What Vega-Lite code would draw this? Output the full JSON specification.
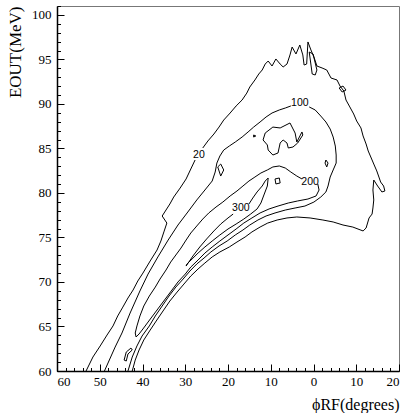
{
  "$schema": "https://vega.github.io/schema/vega-lite/v6.json",
  "width": 342,
  "height": 365,
  "autosize": {"type": "none"},
  "padding": {"left": 57, "top": 6, "right": 2, "bottom": 42},
  "config": {
    "view": {"stroke": "#777", "strokeWidth": 1},
    "font": "Liberation Serif",
    "axis": {
      "grid": false,
      "domainColor": "black",
      "domainWidth": 1.5,
      "tickColor": "black",
      "labelColor": "black",
      "labelFont": "Liberation Serif",
      "labelFontSize": 13,
      "titleFont": "Liberation Serif",
      "titleFontSize": 16,
      "titleFontWeight": "normal",
      "titleColor": "black"
    }
  },
  "datasets": {
    "contours": [
      {"p":"a1","lv":20,"i":0,"x":53.2,"y":60.0},{"p":"a1","lv":20,"i":1,"x":51.6,"y":61.57},{"p":"a1","lv":20,"i":2,"x":49.9,"y":62.81},{"p":"a1","lv":20,"i":3,"x":48.3,"y":64.04},{"p":"a1","lv":20,"i":4,"x":46.9,"y":65.06},{"p":"a1","lv":20,"i":5,"x":45.8,"y":66.18},{"p":"a1","lv":20,"i":6,"x":44.6,"y":67.18},{"p":"a1","lv":20,"i":7,"x":43.4,"y":68.2},{"p":"a1","lv":20,"i":8,"x":42.2,"y":69.1},{"p":"a1","lv":20,"i":9,"x":41.1,"y":70.11},{"p":"a1","lv":20,"i":10,"x":39.9,"y":71.0},{"p":"a1","lv":20,"i":11,"x":38.2,"y":72.36},{"p":"a1","lv":20,"i":12,"x":36.6,"y":73.59},{"p":"a1","lv":20,"i":13,"x":35.7,"y":74.6},{"p":"a1","lv":20,"i":14,"x":35.0,"y":75.62},{"p":"a1","lv":20,"i":15,"x":34.3,"y":76.62},{"p":"a1","lv":20,"i":16,"x":35.4,"y":77.41},{"p":"a1","lv":20,"i":17,"x":33.6,"y":78.76},{"p":"a1","lv":20,"i":18,"x":32.7,"y":79.54},{"p":"a1","lv":20,"i":19,"x":31.2,"y":80.55},{"p":"a1","lv":20,"i":20,"x":29.8,"y":81.57},{"p":"a1","lv":20,"i":21,"x":28.7,"y":82.69},{"p":"a1","lv":20,"i":22,"x":27.7,"y":83.7},
      {"p":"a2","lv":20,"i":0,"x":25.9,"y":85.05},{"p":"a2","lv":20,"i":1,"x":24.7,"y":85.84},{"p":"a2","lv":20,"i":2,"x":23.3,"y":86.62},{"p":"a2","lv":20,"i":3,"x":22.1,"y":87.4},{"p":"a2","lv":20,"i":4,"x":21.0,"y":88.19},{"p":"a2","lv":20,"i":5,"x":19.5,"y":88.98},{"p":"a2","lv":20,"i":6,"x":18.1,"y":89.77},{"p":"a2","lv":20,"i":7,"x":16.7,"y":90.44},{"p":"a2","lv":20,"i":8,"x":15.6,"y":91.22},{"p":"a2","lv":20,"i":9,"x":14.9,"y":91.9},{"p":"a2","lv":20,"i":10,"x":13.7,"y":92.69},{"p":"a2","lv":20,"i":11,"x":12.8,"y":93.36},{"p":"a2","lv":20,"i":12,"x":12.0,"y":93.81},{"p":"a2","lv":20,"i":13,"x":11.3,"y":94.48},{"p":"a2","lv":20,"i":14,"x":10.6,"y":94.82},{"p":"a2","lv":20,"i":15,"x":9.7,"y":94.26},{"p":"a2","lv":20,"i":16,"x":8.8,"y":95.05},{"p":"a2","lv":20,"i":17,"x":7.8,"y":94.48},{"p":"a2","lv":20,"i":18,"x":7.1,"y":94.15},{"p":"a2","lv":20,"i":19,"x":6.2,"y":94.48},{"p":"a2","lv":20,"i":20,"x":5.5,"y":95.5},{"p":"a2","lv":20,"i":21,"x":5.0,"y":96.39},{"p":"a2","lv":20,"i":22,"x":4.1,"y":95.61},{"p":"a2","lv":20,"i":23,"x":3.2,"y":96.62},{"p":"a2","lv":20,"i":24,"x":2.5,"y":95.5},{"p":"a2","lv":20,"i":25,"x":2.2,"y":94.37},{"p":"a2","lv":20,"i":26,"x":1.6,"y":94.48},{"p":"a2","lv":20,"i":27,"x":1.3,"y":96.96},{"p":"a2","lv":20,"i":28,"x":0.6,"y":96.06},{"p":"a2","lv":20,"i":29,"x":-0.1,"y":95.27},{"p":"a2","lv":20,"i":30,"x":-0.8,"y":94.26},{"p":"a2","lv":20,"i":31,"x":-2.0,"y":94.04},{"p":"a2","lv":20,"i":32,"x":-3.1,"y":93.81},{"p":"a2","lv":20,"i":33,"x":-4.1,"y":92.91},{"p":"a2","lv":20,"i":34,"x":-5.5,"y":92.69},{"p":"a2","lv":20,"i":35,"x":-6.2,"y":92.01},{"p":"a2","lv":20,"i":36,"x":-7.1,"y":91.45},{"p":"a2","lv":20,"i":37,"x":-7.6,"y":90.44},{"p":"a2","lv":20,"i":38,"x":-8.5,"y":89.66},{"p":"a2","lv":20,"i":39,"x":-9.4,"y":88.87},{"p":"a2","lv":20,"i":40,"x":-10.1,"y":88.08},{"p":"a2","lv":20,"i":41,"x":-11.1,"y":87.3},{"p":"a2","lv":20,"i":42,"x":-11.6,"y":86.4},{"p":"a2","lv":20,"i":43,"x":-12.3,"y":85.5},{"p":"a2","lv":20,"i":44,"x":-12.8,"y":84.71},{"p":"a2","lv":20,"i":45,"x":-13.4,"y":84.04},{"p":"a2","lv":20,"i":46,"x":-14.1,"y":83.25},{"p":"a2","lv":20,"i":47,"x":-14.8,"y":82.47},{"p":"a2","lv":20,"i":48,"x":-15.3,"y":81.79},{"p":"a2","lv":20,"i":49,"x":-15.7,"y":81.23},{"p":"a2","lv":20,"i":50,"x":-16.4,"y":80.78},{"p":"a2","lv":20,"i":51,"x":-16.7,"y":80.22},{"p":"a2","lv":20,"i":52,"x":-16.0,"y":80.11},{"p":"a2","lv":20,"i":53,"x":-15.0,"y":80.78},{"p":"a2","lv":20,"i":54,"x":-14.1,"y":81.45},{"p":"a2","lv":20,"i":55,"x":-13.9,"y":80.33},{"p":"a2","lv":20,"i":56,"x":-14.1,"y":79.21},{"p":"a2","lv":20,"i":57,"x":-13.9,"y":78.31},{"p":"a2","lv":20,"i":58,"x":-13.7,"y":77.63},{"p":"a2","lv":20,"i":59,"x":-13.0,"y":77.19},{"p":"a2","lv":20,"i":60,"x":-12.3,"y":76.06},{"p":"a2","lv":20,"i":61,"x":-11.6,"y":75.73},{"p":"a2","lv":20,"i":62,"x":-9.2,"y":76.17},{"p":"a2","lv":20,"i":63,"x":-6.9,"y":76.4},{"p":"a2","lv":20,"i":64,"x":-4.6,"y":76.74},{"p":"a2","lv":20,"i":65,"x":-2.2,"y":76.96},{"p":"a2","lv":20,"i":66,"x":0.8,"y":77.19},{"p":"a2","lv":20,"i":67,"x":3.9,"y":77.3},{"p":"a2","lv":20,"i":68,"x":6.2,"y":77.19},{"p":"a2","lv":20,"i":69,"x":8.5,"y":76.96},{"p":"a2","lv":20,"i":70,"x":10.7,"y":76.62},{"p":"a2","lv":20,"i":71,"x":12.5,"y":76.17},{"p":"a2","lv":20,"i":72,"x":14.4,"y":75.62},{"p":"a2","lv":20,"i":73,"x":16.0,"y":75.05},{"p":"a2","lv":20,"i":74,"x":17.9,"y":74.49},{"p":"a2","lv":20,"i":75,"x":19.7,"y":73.93},{"p":"a2","lv":20,"i":76,"x":21.9,"y":73.37},{"p":"a2","lv":20,"i":77,"x":23.7,"y":72.81},{"p":"a2","lv":20,"i":78,"x":25.4,"y":72.13},{"p":"a2","lv":20,"i":79,"x":27.0,"y":71.46},{"p":"a2","lv":20,"i":80,"x":28.7,"y":70.67},{"p":"a2","lv":20,"i":81,"x":30.3,"y":69.77},{"p":"a2","lv":20,"i":82,"x":31.9,"y":68.87},{"p":"a2","lv":20,"i":83,"x":33.6,"y":67.86},{"p":"a2","lv":20,"i":84,"x":35.2,"y":66.74},{"p":"a2","lv":20,"i":85,"x":36.8,"y":65.61},{"p":"a2","lv":20,"i":86,"x":38.2,"y":64.6},{"p":"a2","lv":20,"i":87,"x":39.7,"y":63.48},{"p":"a2","lv":20,"i":88,"x":40.8,"y":62.36},{"p":"a2","lv":20,"i":89,"x":41.7,"y":61.23},{"p":"a2","lv":20,"i":90,"x":42.4,"y":60.0},
      {"p":"a3","lv":20,"i":0,"x":1.0,"y":95.83},{"p":"a3","lv":20,"i":1,"x":0.3,"y":93.36},{"p":"a3","lv":20,"i":2,"x":-0.4,"y":93.25},{"p":"a3","lv":20,"i":3,"x":-0.8,"y":93.81},{"p":"a3","lv":20,"i":4,"x":0.1,"y":95.61},{"p":"a3","lv":20,"i":5,"x":1.0,"y":95.83},
      {"p":"a4","lv":20,"i":0,"x":-6.0,"y":91.79},{"p":"a4","lv":20,"i":1,"x":-6.9,"y":92.01},{"p":"a4","lv":20,"i":2,"x":-7.6,"y":91.56},{"p":"a4","lv":20,"i":3,"x":-6.7,"y":91.34},{"p":"a4","lv":20,"i":4,"x":-6.0,"y":91.79},
      {"p":"b1","lv":100,"i":0,"x":48.9,"y":60.0},{"p":"b1","lv":100,"i":1,"x":46.4,"y":62.69},{"p":"b1","lv":100,"i":2,"x":44.8,"y":64.27},{"p":"b1","lv":100,"i":3,"x":42.9,"y":66.51},{"p":"b1","lv":100,"i":4,"x":40.6,"y":68.99},{"p":"b1","lv":100,"i":5,"x":38.7,"y":70.89},{"p":"b1","lv":100,"i":6,"x":36.4,"y":72.81},{"p":"b1","lv":100,"i":7,"x":34.0,"y":74.71},{"p":"b1","lv":100,"i":8,"x":31.7,"y":76.4},{"p":"b1","lv":100,"i":9,"x":29.4,"y":77.86},{"p":"b1","lv":100,"i":10,"x":27.3,"y":79.21},{"p":"b1","lv":100,"i":11,"x":25.4,"y":80.33},{"p":"b1","lv":100,"i":12,"x":23.7,"y":81.34},{"p":"b1","lv":100,"i":13,"x":23.0,"y":82.35},{"p":"b1","lv":100,"i":14,"x":22.6,"y":83.36},{"p":"b1","lv":100,"i":15,"x":21.9,"y":84.15},{"p":"b1","lv":100,"i":16,"x":21.0,"y":84.82},{"p":"b1","lv":100,"i":17,"x":19.7,"y":85.27},{"p":"b1","lv":100,"i":18,"x":18.3,"y":85.72},{"p":"b1","lv":100,"i":19,"x":16.7,"y":86.28},{"p":"b1","lv":100,"i":20,"x":15.3,"y":86.85},{"p":"b1","lv":100,"i":21,"x":14.0,"y":87.4},{"p":"b1","lv":100,"i":22,"x":12.5,"y":87.97},{"p":"b1","lv":100,"i":23,"x":11.1,"y":88.53},{"p":"b1","lv":100,"i":24,"x":9.7,"y":88.98},{"p":"b1","lv":100,"i":25,"x":8.0,"y":89.32},{"p":"b1","lv":100,"i":26,"x":6.6,"y":89.54},{"p":"b1","lv":100,"i":27,"x":5.3,"y":89.77},
      {"p":"b2","lv":100,"i":0,"x":1.0,"y":89.66},{"p":"b2","lv":100,"i":1,"x":-0.4,"y":89.32},{"p":"b2","lv":100,"i":2,"x":-1.7,"y":88.64},{"p":"b2","lv":100,"i":3,"x":-2.9,"y":87.97},{"p":"b2","lv":100,"i":4,"x":-3.9,"y":87.18},{"p":"b2","lv":100,"i":5,"x":-4.6,"y":86.28},{"p":"b2","lv":100,"i":6,"x":-5.1,"y":85.27},{"p":"b2","lv":100,"i":7,"x":-5.3,"y":84.26},{"p":"b2","lv":100,"i":8,"x":-5.3,"y":83.36},{"p":"b2","lv":100,"i":9,"x":-4.6,"y":82.58},{"p":"b2","lv":100,"i":10,"x":-3.9,"y":81.79},{"p":"b2","lv":100,"i":11,"x":-3.4,"y":80.78},{"p":"b2","lv":100,"i":12,"x":-2.9,"y":80.11},{"p":"b2","lv":100,"i":13,"x":-1.7,"y":79.54},{"p":"b2","lv":100,"i":14,"x":-0.1,"y":78.98},{"p":"b2","lv":100,"i":15,"x":2.0,"y":78.53},{"p":"b2","lv":100,"i":16,"x":4.3,"y":78.31},{"p":"b2","lv":100,"i":17,"x":6.6,"y":78.08},{"p":"b2","lv":100,"i":18,"x":9.0,"y":77.75},{"p":"b2","lv":100,"i":19,"x":11.1,"y":77.41},{"p":"b2","lv":100,"i":20,"x":13.0,"y":76.96},{"p":"b2","lv":100,"i":21,"x":14.9,"y":76.4},{"p":"b2","lv":100,"i":22,"x":16.5,"y":75.84},{"p":"b2","lv":100,"i":23,"x":18.3,"y":75.28},{"p":"b2","lv":100,"i":24,"x":20.2,"y":74.6},{"p":"b2","lv":100,"i":25,"x":22.1,"y":74.04},{"p":"b2","lv":100,"i":26,"x":24.0,"y":73.37},{"p":"b2","lv":100,"i":27,"x":25.6,"y":72.69},{"p":"b2","lv":100,"i":28,"x":27.3,"y":72.02},{"p":"b2","lv":100,"i":29,"x":28.9,"y":71.23},{"p":"b2","lv":100,"i":30,"x":30.5,"y":70.33},{"p":"b2","lv":100,"i":31,"x":32.2,"y":69.43},{"p":"b2","lv":100,"i":32,"x":33.8,"y":68.42},{"p":"b2","lv":100,"i":33,"x":35.4,"y":67.3},{"p":"b2","lv":100,"i":34,"x":37.0,"y":66.18},{"p":"b2","lv":100,"i":35,"x":38.4,"y":65.06},{"p":"b2","lv":100,"i":36,"x":40.1,"y":63.93},{"p":"b2","lv":100,"i":37,"x":41.3,"y":62.81},{"p":"b2","lv":100,"i":38,"x":42.4,"y":61.57},{"p":"b2","lv":100,"i":39,"x":43.4,"y":60.0},
      {"p":"b3","lv":100,"i":0,"x":11.3,"y":86.73},{"p":"b3","lv":100,"i":1,"x":9.5,"y":87.4},{"p":"b3","lv":100,"i":2,"x":7.8,"y":87.3},{"p":"b3","lv":100,"i":3,"x":5.5,"y":87.86},{"p":"b3","lv":100,"i":4,"x":4.3,"y":86.73},{"p":"b3","lv":100,"i":5,"x":3.9,"y":85.72},{"p":"b3","lv":100,"i":6,"x":2.7,"y":86.85},{"p":"b3","lv":100,"i":7,"x":2.5,"y":86.51},{"p":"b3","lv":100,"i":8,"x":3.7,"y":85.61},{"p":"b3","lv":100,"i":9,"x":4.8,"y":85.16},{"p":"b3","lv":100,"i":10,"x":5.9,"y":85.05},{"p":"b3","lv":100,"i":11,"x":6.2,"y":85.61},{"p":"b3","lv":100,"i":12,"x":7.1,"y":85.95},{"p":"b3","lv":100,"i":13,"x":7.8,"y":85.61},{"p":"b3","lv":100,"i":14,"x":8.3,"y":84.49},{"p":"b3","lv":100,"i":15,"x":9.5,"y":84.26},{"p":"b3","lv":100,"i":16,"x":10.6,"y":84.82},{"p":"b3","lv":100,"i":17,"x":10.8,"y":85.39},{"p":"b3","lv":100,"i":18,"x":11.8,"y":85.95},{"p":"b3","lv":100,"i":19,"x":11.3,"y":86.73},
      {"p":"b4","lv":100,"i":0,"x":22.4,"y":82.92},{"p":"b4","lv":100,"i":1,"x":21.7,"y":83.25},{"p":"b4","lv":100,"i":2,"x":21.0,"y":82.58},{"p":"b4","lv":100,"i":3,"x":21.7,"y":81.9},{"p":"b4","lv":100,"i":4,"x":22.4,"y":82.92},
      {"p":"b5","lv":100,"i":0,"x":14.0,"y":86.51},{"p":"b5","lv":100,"i":1,"x":13.5,"y":86.4},{"p":"b5","lv":100,"i":2,"x":14.0,"y":86.28},{"p":"b5","lv":100,"i":3,"x":14.0,"y":86.51},
      {"p":"b6","lv":100,"i":0,"x":-2.9,"y":83.7},{"p":"b6","lv":100,"i":1,"x":-3.4,"y":83.36},{"p":"b6","lv":100,"i":2,"x":-3.1,"y":82.92},{"p":"b6","lv":100,"i":3,"x":-2.7,"y":83.36},{"p":"b6","lv":100,"i":4,"x":-2.9,"y":83.7},
      {"p":"c1","lv":200,"i":0,"x":-1.0,"y":81.01},{"p":"c1","lv":200,"i":1,"x":-1.3,"y":80.33},{"p":"c1","lv":200,"i":2,"x":-0.6,"y":79.66},{"p":"c1","lv":200,"i":3,"x":1.3,"y":79.32},{"p":"c1","lv":200,"i":4,"x":3.7,"y":79.1},{"p":"c1","lv":200,"i":5,"x":5.9,"y":78.87},{"p":"c1","lv":200,"i":6,"x":8.3,"y":78.53},{"p":"c1","lv":200,"i":7,"x":10.4,"y":78.2},{"p":"c1","lv":200,"i":8,"x":12.5,"y":77.75},{"p":"c1","lv":200,"i":9,"x":14.4,"y":77.19},{"p":"c1","lv":200,"i":10,"x":16.3,"y":76.62},{"p":"c1","lv":200,"i":11,"x":18.1,"y":75.95},{"p":"c1","lv":200,"i":12,"x":20.0,"y":75.28},{"p":"c1","lv":200,"i":13,"x":21.9,"y":74.6},{"p":"c1","lv":200,"i":14,"x":23.7,"y":73.93},{"p":"c1","lv":200,"i":15,"x":25.4,"y":73.25},{"p":"c1","lv":200,"i":16,"x":27.0,"y":72.47},{"p":"c1","lv":200,"i":17,"x":28.7,"y":71.68},{"p":"c1","lv":200,"i":18,"x":30.0,"y":70.89},{"p":"c1","lv":200,"i":19,"x":31.7,"y":70.0},{"p":"c1","lv":200,"i":20,"x":33.1,"y":69.1},{"p":"c1","lv":200,"i":21,"x":34.5,"y":68.2},{"p":"c1","lv":200,"i":22,"x":35.9,"y":67.3},{"p":"c1","lv":200,"i":23,"x":37.3,"y":66.4},{"p":"c1","lv":200,"i":24,"x":38.7,"y":65.5},{"p":"c1","lv":200,"i":25,"x":39.9,"y":64.72},{"p":"c1","lv":200,"i":26,"x":40.8,"y":64.16},{"p":"c1","lv":200,"i":27,"x":41.5,"y":63.82},{"p":"c1","lv":200,"i":28,"x":41.7,"y":64.27},{"p":"c1","lv":200,"i":29,"x":41.3,"y":65.06},{"p":"c1","lv":200,"i":30,"x":40.6,"y":66.18},{"p":"c1","lv":200,"i":31,"x":39.7,"y":67.3},{"p":"c1","lv":200,"i":32,"x":38.4,"y":68.42},{"p":"c1","lv":200,"i":33,"x":37.0,"y":69.43},{"p":"c1","lv":200,"i":34,"x":35.9,"y":70.33},{"p":"c1","lv":200,"i":35,"x":34.5,"y":71.34},{"p":"c1","lv":200,"i":36,"x":33.4,"y":72.24},{"p":"c1","lv":200,"i":37,"x":32.2,"y":73.03},{"p":"c1","lv":200,"i":38,"x":31.0,"y":73.81},{"p":"c1","lv":200,"i":39,"x":29.8,"y":74.71},{"p":"c1","lv":200,"i":40,"x":28.7,"y":75.5},{"p":"c1","lv":200,"i":41,"x":27.3,"y":76.29},{"p":"c1","lv":200,"i":42,"x":25.9,"y":77.07},{"p":"c1","lv":200,"i":43,"x":24.5,"y":77.75},{"p":"c1","lv":200,"i":44,"x":22.8,"y":78.42},{"p":"c1","lv":200,"i":45,"x":21.2,"y":78.98},{"p":"c1","lv":200,"i":46,"x":19.5,"y":79.66},{"p":"c1","lv":200,"i":47,"x":17.9,"y":80.22},{"p":"c1","lv":200,"i":48,"x":16.5,"y":80.78},{"p":"c1","lv":200,"i":49,"x":15.1,"y":81.34},{"p":"c1","lv":200,"i":50,"x":13.7,"y":81.79},{"p":"c1","lv":200,"i":51,"x":12.3,"y":82.24},{"p":"c1","lv":200,"i":52,"x":10.8,"y":82.58},{"p":"c1","lv":200,"i":53,"x":9.5,"y":82.92},{"p":"c1","lv":200,"i":54,"x":8.0,"y":83.03},{"p":"c1","lv":200,"i":55,"x":6.6,"y":82.8},{"p":"c1","lv":200,"i":56,"x":5.3,"y":82.35},{"p":"c1","lv":200,"i":57,"x":3.9,"y":81.9},{"p":"c1","lv":200,"i":58,"x":2.7,"y":81.57},
      {"p":"c2","lv":200,"i":0,"x":9.0,"y":81.57},{"p":"c2","lv":200,"i":1,"x":8.0,"y":81.68},{"p":"c2","lv":200,"i":2,"x":7.8,"y":81.12},{"p":"c2","lv":200,"i":3,"x":8.8,"y":81.01},{"p":"c2","lv":200,"i":4,"x":9.0,"y":81.57},
      {"p":"c3","lv":200,"i":0,"x":44.3,"y":61.23},{"p":"c3","lv":200,"i":1,"x":43.8,"y":62.13},{"p":"c3","lv":200,"i":2,"x":42.7,"y":62.58},{"p":"c3","lv":200,"i":3,"x":42.4,"y":62.36},{"p":"c3","lv":200,"i":4,"x":43.4,"y":61.91},{"p":"c3","lv":200,"i":5,"x":43.8,"y":61.12},{"p":"c3","lv":200,"i":6,"x":44.3,"y":61.23},
      {"p":"d1","lv":300,"i":0,"x":29.8,"y":71.79},{"p":"d1","lv":300,"i":1,"x":28.2,"y":72.92},{"p":"d1","lv":300,"i":2,"x":26.6,"y":73.93},{"p":"d1","lv":300,"i":3,"x":25.0,"y":74.83},{"p":"d1","lv":300,"i":4,"x":23.3,"y":75.73},{"p":"d1","lv":300,"i":5,"x":21.7,"y":76.51},{"p":"d1","lv":300,"i":6,"x":20.0,"y":77.19},{"p":"d1","lv":300,"i":7,"x":18.8,"y":77.63},
      {"p":"d2","lv":300,"i":0,"x":15.1,"y":78.76},{"p":"d2","lv":300,"i":1,"x":14.2,"y":79.43},{"p":"d2","lv":300,"i":2,"x":13.2,"y":80.11},{"p":"d2","lv":300,"i":3,"x":12.0,"y":80.78},{"p":"d2","lv":300,"i":4,"x":11.3,"y":81.34},{"p":"d2","lv":300,"i":5,"x":10.6,"y":81.68},{"p":"d2","lv":300,"i":6,"x":10.8,"y":80.78},{"p":"d2","lv":300,"i":7,"x":11.6,"y":79.77},{"p":"d2","lv":300,"i":8,"x":12.3,"y":78.87},{"p":"d2","lv":300,"i":9,"x":13.2,"y":78.2},{"p":"d2","lv":300,"i":10,"x":14.7,"y":77.63},{"p":"d2","lv":300,"i":11,"x":16.3,"y":77.07},{"p":"d2","lv":300,"i":12,"x":18.1,"y":76.51},{"p":"d2","lv":300,"i":13,"x":20.0,"y":75.95},{"p":"d2","lv":300,"i":14,"x":21.9,"y":75.28},{"p":"d2","lv":300,"i":15,"x":23.7,"y":74.6},{"p":"d2","lv":300,"i":16,"x":25.4,"y":73.93},{"p":"d2","lv":300,"i":17,"x":27.0,"y":73.25},{"p":"d2","lv":300,"i":18,"x":28.4,"y":72.58},{"p":"d2","lv":300,"i":19,"x":29.6,"y":72.02},{"p":"d2","lv":300,"i":20,"x":29.8,"y":71.79}
    ],
    "labels": [
      {"label": "20", "x": 26.8, "y": 84.26},
      {"label": "100", "x": 3.2, "y": 90.1},
      {"label": "200", "x": 0.8, "y": 81.23},
      {"label": "300", "x": 17.0, "y": 78.31}
    ]
  },
  "layer": [
    {
      "data": {"name": "contours"},
      "mark": {"type": "line", "color": "black", "strokeWidth": 1},
      "encoding": {
        "x": {
          "field": "x", "type": "quantitative",
          "scale": {"domain": [60, -20], "nice": false, "zero": false},
          "axis": {
            "values": [60, 50, 40, 30, 20, 10, 0, -10, -20],
            "labelExpr": "abs(datum.value)",
            "labelFont": "Liberation Serif",
            "labelFontSize": 13,
            "tickSize": -7,
            "labelPadding": 11,
            "title": "ϕRF(degrees)",
            "titleFont": "Liberation Serif",
            "titleFontSize": 16,
            "titleAnchor": "end",
            "titlePadding": 8
          }
        },
        "y": {
          "field": "y", "type": "quantitative",
          "scale": {"domain": [60, 101], "nice": false, "zero": false},
          "axis": {
            "values": [60, 65, 70, 75, 80, 85, 90, 95, 100],
            "labelFont": "Liberation Serif",
            "labelFontSize": 13,
            "tickSize": -7,
            "labelPadding": 13,
            "title": "EOUT(MeV)",
            "titleFont": "Liberation Serif",
            "titleFontSize": 17,
            "titleAnchor": "end",
            "titlePadding": 7
          }
        },
        "detail": {"field": "p"},
        "order": {"field": "i", "type": "quantitative"}
      }
    },
    {
      "data": {"name": "labels"},
      "mark": {"type": "text", "font": "Liberation Sans", "fontSize": 10.5, "fill": "black", "align": "center", "baseline": "middle"},
      "encoding": {
        "x": {
          "field": "x", "type": "quantitative",
          "axis": {
            "values": [60, 58, 56, 54, 52, 50, 48, 46, 44, 42, 40, 38, 36, 34, 32, 30, 28, 26, 24, 22, 20, 18, 16, 14, 12, 10, 8, 6, 4, 2, 0, -2, -4, -6, -8, -10, -12, -14, -16, -18, -20],
            "orient": "bottom", "tickSize": -3.5, "labels": false, "domain": false, "title": null
          }
        },
        "y": {
          "field": "y", "type": "quantitative",
          "axis": {
            "values": [60, 61, 62, 63, 64, 65, 66, 67, 68, 69, 70, 71, 72, 73, 74, 75, 76, 77, 78, 79, 80, 81, 82, 83, 84, 85, 86, 87, 88, 89, 90, 91, 92, 93, 94, 95, 96, 97, 98, 99, 100, 101],
            "orient": "left", "tickSize": -3.5, "labels": false, "domain": false, "title": null
          }
        },
        "text": {"field": "label"}
      }
    }
  ],
  "resolve": {"axis": {"x": "independent", "y": "independent"}}
}
